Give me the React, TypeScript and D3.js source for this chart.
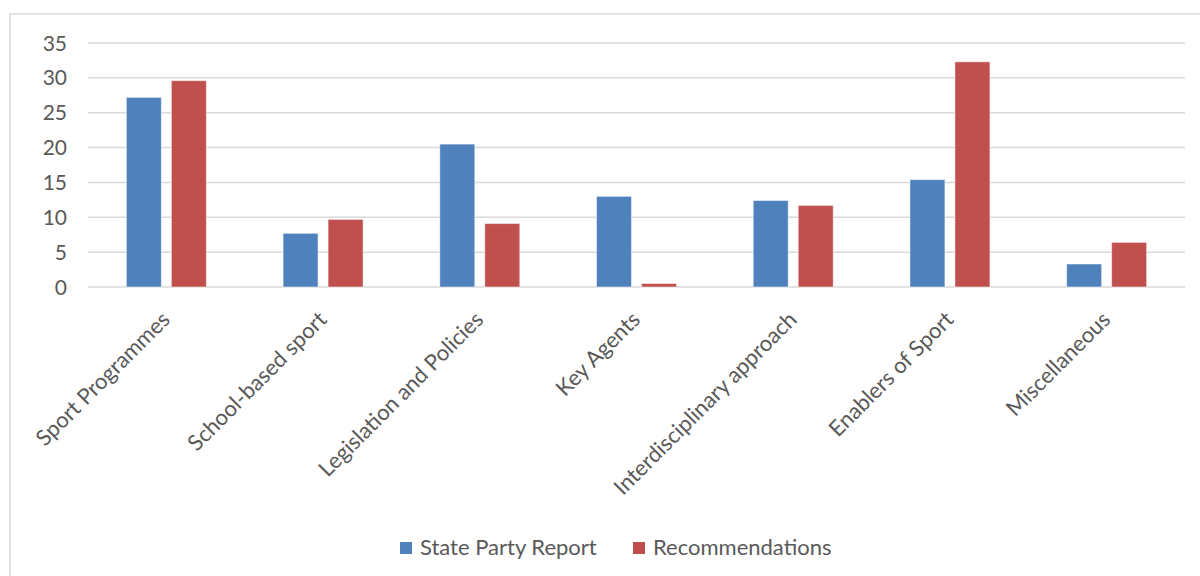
import React from "react";
import * as d3 from "d3";

const categories = [
  "Sport Programmes",
  "School-based sport",
  "Legislation and Policies",
  "Key Agents",
  "Interdisciplinary approach",
  "Enablers of Sport",
  "Miscellaneous",
];
const seriesNames = ["State Party Report", "Recommendations"];
const stateParty = [27.2, 7.7, 20.5, 13.0, 12.4, 15.4, 3.3];
const recommendations = [29.6, 9.7, 9.1, 0.5, 11.7, 32.3, 6.4];
const yTicks = [0, 5, 10, 15, 20, 25, 30, 35];
const colors = ["#4F81BD", "#C0504D"];

const W = 1200;
const H = 576;
const FONT = "Lato, 'Open Sans', sans-serif";
const TEXT = "#595959";

export default function App() {
  const values = [stateParty, recommendations];
  const x0 = d3.scaleBand<string>().domain(categories).range([88, 1185]).padding(0);
  const x1 = d3.scaleBand<string>().domain(seriesNames).range([0, 80]).paddingInner(10 / 45);
  const y = d3.scaleLinear().domain([0, 35]).range([287, 43]);

  return (
    <svg
      width={W}
      height={H}
      style={{ position: "absolute", left: 0, top: 0, background: "#fff" }}
      fontFamily={FONT}
    >
      <rect x={10} y={14} width={1210} height={600} fill="#fff" stroke="#D9D9D9" strokeWidth={1.5} />
      {yTicks.map((t) => (
        <g key={t}>
          <line x1={88} x2={1185} y1={y(t)} y2={y(t)} stroke="#D9D9D9" strokeWidth={1.5} />
          <text x={67} y={y(t)} dy="0.36em" textAnchor="end" fontSize={21} fill={TEXT}>
            {t}
          </text>
        </g>
      ))}
      {categories.map((c, i) => {
        const cx = (x0(c) as number) + x0.bandwidth() / 2;
        return (
          <g key={c}>
            {seriesNames.map((s, j) => (
              <rect
                key={s}
                x={cx - 40 + (x1(s) as number)}
                y={y(values[j][i])}
                width={x1.bandwidth()}
                height={y(0) - y(values[j][i])}
                fill={colors[j]}
                stroke="#ffffff"
                strokeOpacity={0.5}
                strokeWidth={1}
              />
            ))}
            <text
              transform={`translate(${cx + 5},${321}) rotate(-45)`}
              textAnchor="end"
              fontSize={22}
              fill={TEXT}
            >
              {c}
            </text>
          </g>
        );
      })}
      <g>
        <rect x={400} y={542} width={12} height={12} fill={colors[0]} />
        <text x={420} y={555} fontSize={22} fill={TEXT}>
          {seriesNames[0]}
        </text>
        <rect x={633} y={542} width={12} height={12} fill={colors[1]} />
        <text x={653} y={555} fontSize={22} fill={TEXT}>
          {seriesNames[1]}
        </text>
      </g>
    </svg>
  );
}
